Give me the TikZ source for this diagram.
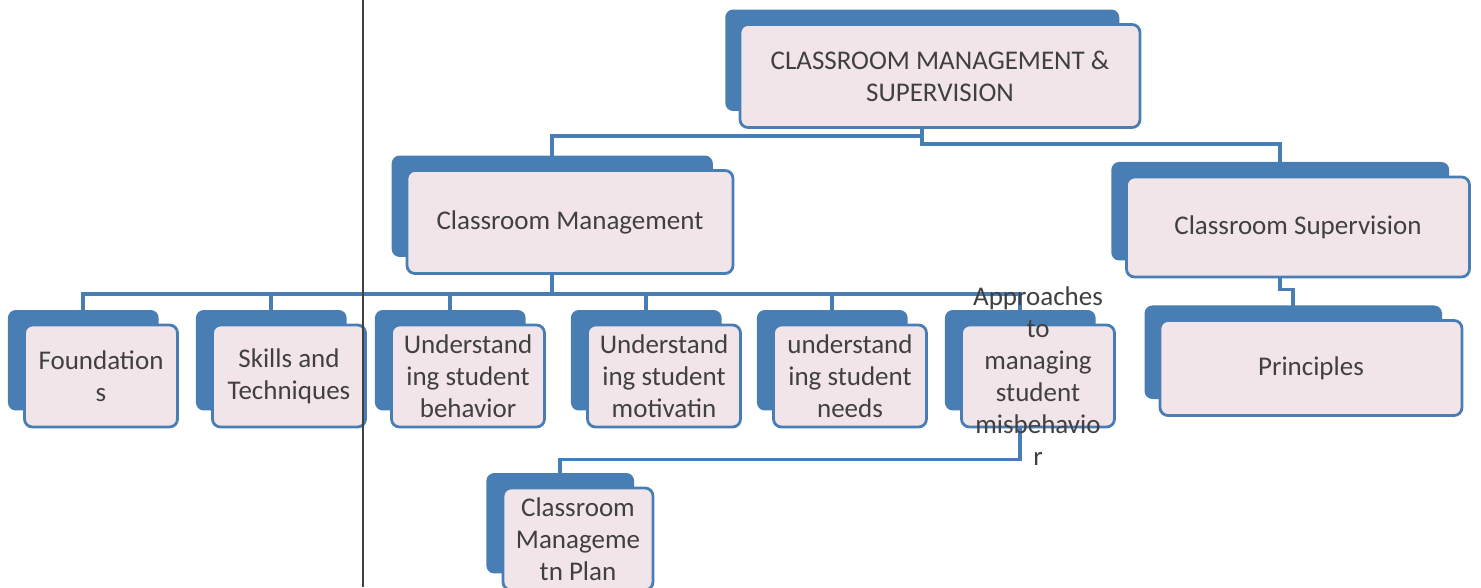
\documentclass[tikz,border=0pt]{standalone}
\usepackage{fontspec}
\setmainfont{Carlito}
\usepackage{tikz}
\definecolor{boxblue}{RGB}{72,126,180}
\definecolor{boxpink}{RGB}{242,229,233}
\definecolor{inkgray}{RGB}{64,64,64}
\tikzstyle{topic} = [rectangle, rounded corners=8pt, draw=boxblue, line width=2.8pt, fill=boxpink, text=inkgray, align=center, inner sep=0pt, minimum width=153pt, minimum height=102pt, copy shadow={fill=boxblue, draw=none, shadow xshift=-18pt, shadow yshift=16pt, shadow scale=0.985}]
\tikzstyle{label} = [text=inkgray, align=center, inner sep=0pt]
\tikzstyle{link} = [draw=boxblue, line width=3.5pt]
\usetikzlibrary{shadows, backgrounds, positioning}

\begin{document}
\begin{tikzpicture}[x=1pt, y=-1pt, font=\fontsize{27}{32}\selectfont]
      \clip (0,0) rectangle (1481,587);
      \node[topic, minimum width=400pt, minimum height=103pt] (top) at (940,76) {CLASSROOM MANAGEMENT \&\\SUPERVISION};
      \node[topic, minimum width=326pt, minimum height=103pt] (cm) at (570,222) {Classroom Management};
      \node[topic, minimum width=343pt, minimum height=100pt] (cs) at (1298,227) {Classroom Supervision};
      \node[topic, minimum width=302pt, minimum height=95pt] (pr) at (1311,368) {Principles};

      \node[topic] (fo) at (101,376) {Foundation\\s};
      \node[topic] (sk) at (289,376) {Skills and\\Techniques};
      \node[topic] (ub) at (468,376) {Understand\\ing student\\behavior};
      \node[topic] (um) at (664,376) {Understand\\ing student\\motivatin};
      \node[topic] (un) at (850,376) {understand\\ing student\\needs};
      \node[topic] (ap) at (1038,376) {};
      \node[topic, minimum width=150pt] (plan) at (578,539) {Classroom\\Manageme\\tn Plan};

      \begin{scope}[on background layer]
      \draw[link] ([xshift=-18pt]top.south) -- ++(0,15) -| ([xshift=-18pt]cs.north);
      \draw[link] ([xshift=-18pt]top.south) ++(0,7) -| ([xshift=-18pt]cm.north);
      \foreach \c in {fo,sk,ub,um,un,ap}
        \draw[link] ([xshift=-18pt]cm.south) -- ++(0,19) -| ([xshift=-18pt]\c.north);
      \draw[link] ([xshift=-18pt]cs.south) -- ++(0,11) -| ([xshift=-18pt]pr.north);
      \draw[link] ([xshift=-18pt]ap.south) -- ++(0,31) -| ([xshift=-18pt]plan.north);
      \end{scope}

      \node[label] (aptext) at (1038,376) {Approaches\\to\\managing\\student\\misbehavio\\r};
      \draw[line width=1.2pt, black!75] (363,0) -- (363,587);
    \end{tikzpicture}
\end{document}
